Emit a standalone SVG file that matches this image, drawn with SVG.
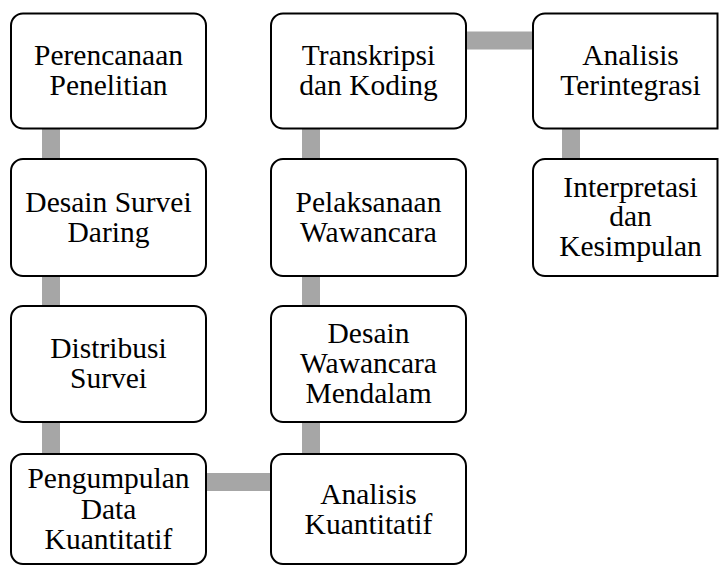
<svg xmlns="http://www.w3.org/2000/svg" width="719" height="567" viewBox="0 0 719 567">
<style>
.box{fill:#ffffff;stroke:#000000;stroke-width:2}
.bar{fill:#a6a6a6}
.t{font-family:'Liberation Serif','Times New Roman',serif;font-size:29.5px;fill:#000000;text-anchor:middle}
</style>
<rect width="719" height="567" fill="#ffffff"/>
<g id="connectors">
<rect class="bar" x="42" y="128" width="18" height="32"/>
<rect class="bar" x="42" y="275" width="18" height="32"/>
<rect class="bar" x="42" y="421" width="18" height="34"/>
<rect class="bar" x="206" y="473" width="66" height="18"/>
<rect class="bar" x="302" y="421" width="18" height="34"/>
<rect class="bar" x="302" y="275" width="18" height="32"/>
<rect class="bar" x="302" y="128" width="18" height="32"/>
<rect class="bar" x="466" y="31.5" width="68" height="18"/>
<rect class="bar" x="562" y="128" width="18" height="32"/>
</g>
<g id="n1">
<rect class="box" x="11" y="13.5" width="195" height="115" rx="12"/>
<text class="t" x="108.5" y="65">Perencanaan<tspan x="108.5" dy="30">Penelitian</tspan></text>
</g>
<g id="n2">
<rect class="box" x="11" y="159" width="195" height="117" rx="12"/>
<text class="t" x="108.5" y="211.5">Desain Survei<tspan x="108.5" dy="30">Daring</tspan></text>
</g>
<g id="n3">
<rect class="box" x="11" y="306" width="195" height="116" rx="12"/>
<text class="t" x="108.5" y="358">Distribusi<tspan x="108.5" dy="30">Survei</tspan></text>
</g>
<g id="n4">
<rect class="box" x="11" y="454" width="195" height="110" rx="12"/>
<text class="t" x="108.5" y="488">Pengumpulan<tspan x="108.5" dy="30.5">Data</tspan><tspan x="108.5" dy="30.5">Kuantitatif</tspan></text>
</g>
<g id="n5">
<rect class="box" x="271" y="454" width="195" height="110" rx="12"/>
<text class="t" x="368.5" y="503.5">Analisis<tspan x="368.5" dy="30.5">Kuantitatif</tspan></text>
</g>
<g id="n6">
<rect class="box" x="271" y="306" width="195" height="116" rx="12"/>
<text class="t" x="368.5" y="343">Desain<tspan x="368.5" dy="30">Wawancara</tspan><tspan x="368.5" dy="30">Mendalam</tspan></text>
</g>
<g id="n7">
<rect class="box" x="271" y="159" width="195" height="117" rx="12"/>
<text class="t" x="368.5" y="211.5">Pelaksanaan<tspan x="368.5" dy="30">Wawancara</tspan></text>
</g>
<g id="n8">
<rect class="box" x="271" y="13.5" width="195" height="115" rx="12"/>
<text class="t" x="368.5" y="65">Transkripsi<tspan x="368.5" dy="30">dan Koding</tspan></text>
</g>
<g id="n9">
<path class="box" d="M545,13.5 H717.5 V128.5 H545 A12,12 0 0 1 533,116.5 V25.5 A12,12 0 0 1 545,13.5 Z"/>
<text class="t" x="630.5" y="65">Analisis<tspan x="630.5" dy="30">Terintegrasi</tspan></text>
</g>
<g id="n10">
<path class="box" d="M545,159 H717.5 V276 H545 A12,12 0 0 1 533,264 V171 A12,12 0 0 1 545,159 Z"/>
<text class="t" x="630.5" y="196.5">Interpretasi<tspan x="630.5" dy="29.5">dan</tspan><tspan x="630.5" dy="29.5">Kesimpulan</tspan></text>
</g>
</svg>
